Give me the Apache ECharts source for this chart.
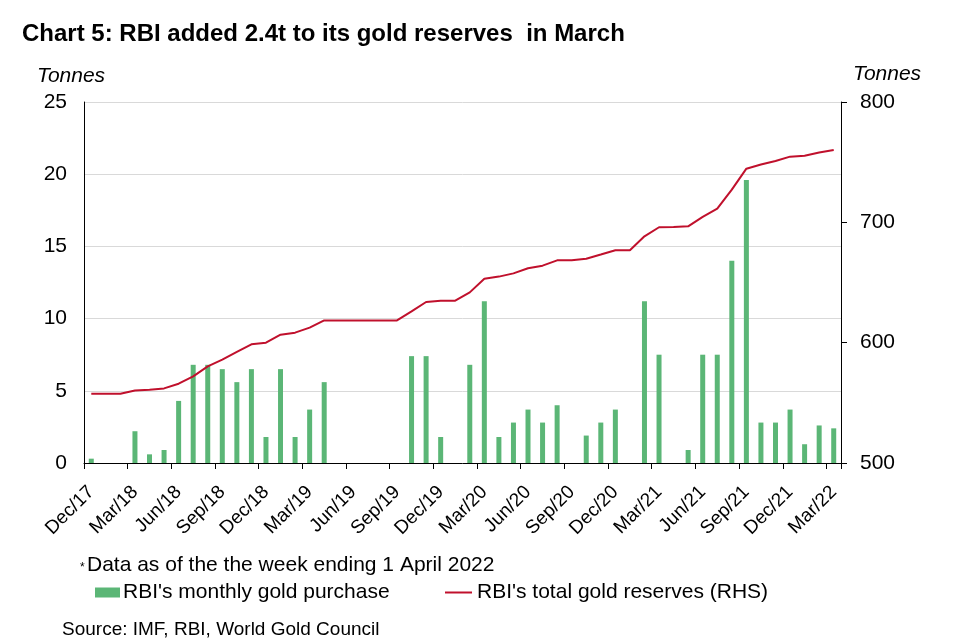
<!DOCTYPE html>
<html>
<head>
<meta charset="utf-8">
<script src="https://cdn.jsdelivr.net/npm/echarts@6/dist/echarts.min.js"></script>
<style>
html,body{margin:0;padding:0;background:#fff;}
#c{width:977px;height:638px;}
</style>
</head>
<body>
<div id="c"></div>
<script>
const categories = [
  'Dec/17','Jan/18','Feb/18','Mar/18','Apr/18','May/18','Jun/18','Jul/18','Aug/18','Sep/18','Oct/18','Nov/18',
  'Dec/18','Jan/19','Feb/19','Mar/19','Apr/19','May/19','Jun/19','Jul/19','Aug/19','Sep/19','Oct/19','Nov/19',
  'Dec/19','Jan/20','Feb/20','Mar/20','Apr/20','May/20','Jun/20','Jul/20','Aug/20','Sep/20','Oct/20','Nov/20',
  'Dec/20','Jan/21','Feb/21','Mar/21','Apr/21','May/21','Jun/21','Jul/21','Aug/21','Sep/21','Oct/21','Nov/21',
  'Dec/21','Jan/22','Feb/22','Mar/22'
];
const monthlyPurchase = [
  0.3, 0, 0, 2.2, 0.6, 0.9, 4.3, 6.8, 6.8, 6.5, 5.6, 6.5,
  1.8, 6.5, 1.8, 3.7, 5.6, 0, 0, 0, 0, 0, 7.4, 7.4,
  1.8, 0, 6.8, 11.2, 1.8, 2.8, 3.7, 2.8, 4.0, 0, 1.9, 2.8,
  3.7, 0, 11.2, 7.5, 0, 0.9, 7.5, 7.5, 14.0, 19.6, 2.8, 2.8,
  3.7, 1.3, 2.6, 2.4
];
const totalReserves = [
  557.6, 557.6, 557.6, 560.3, 560.9, 562.0, 565.9, 572.0, 580.3, 585.9, 592.3, 598.6,
  600.0, 606.6, 608.3, 612.5, 618.5, 618.5, 618.5, 618.5, 618.5, 618.5, 626.0, 633.8,
  634.9, 634.9, 641.8, 653.2, 654.9, 657.6, 661.8, 664.0, 668.4, 668.4, 669.8, 673.2,
  676.8, 676.8, 688.4, 695.9, 696.2, 696.7, 704.5, 711.4, 727.2, 744.6, 748.0, 751.0,
  754.6, 755.4, 758.0, 760.2
];
const leftTicks = { min: 0, max: 25, interval: 5 };
const rightTicks = { min: 500, max: 800, interval: 100 };
const seriesNames = ["RBI's monthly gold purchase", "RBI's total gold reserves (RHS)"];

const FONT = '"Liberation Sans", Arial, sans-serif';
const chart = echarts.init(document.getElementById('c'), null, { renderer: 'canvas' });
chart.setOption({
  backgroundColor: '#fff',
  animation: false,
  textStyle: { fontFamily: FONT },
  grid: { left: 84, right: 136, top: 102, bottom: 175, containLabel: false },
  graphic: [
    { type: 'text', left: 22, top: 22, style: { text: 'Chart 5: RBI added 2.4t to its gold reserves  in March', font: 'bold 24px ' + FONT, fill: '#000' } },
    { type: 'text', left: 37, top: 66, style: { text: 'Tonnes', font: 'italic 21px ' + FONT, fill: '#000' } },
    { type: 'text', left: 853, top: 64, style: { text: 'Tonnes', font: 'italic 21px ' + FONT, fill: '#000' } },
    { type: 'text', left: 80, top: 562, style: { text: '*', font: '12px ' + FONT, fill: '#000' } },
    { type: 'text', left: 87, top: 555, style: { text: 'Data as of the the week ending 1 April 2022', font: '21px ' + FONT, fill: '#000' } },
    { type: 'text', left: 62, top: 620, style: { text: 'Source: IMF, RBI, World Gold Council', font: '19px ' + FONT, fill: '#000' } }
  ],
  legend: [
    { data: [seriesNames[0]], left: 95, top: 582, padding: 0, itemWidth: 25, itemHeight: 10, icon: 'rect',
      textStyle: { fontSize: 21, color: '#000', fontFamily: FONT, padding: [0,0,0,-2] } },
    { data: [seriesNames[1]], left: 445, top: 582, padding: 0, itemWidth: 27, itemHeight: 2, icon: 'rect',
      textStyle: { fontSize: 21, color: '#000', fontFamily: FONT, padding: [0,0,0,0] } }
  ],
  xAxis: {
    type: 'category',
    data: categories,
    boundaryGap: true,
    axisLine: { lineStyle: { color: '#000', width: 1 } },
    axisTick: { show: true, interval: 2, length: 6, lineStyle: { color: '#000' } },
    axisLabel: { interval: 2, rotate: 45, margin: 26, fontSize: 19, color: '#000', fontFamily: FONT },
    splitLine: { show: false }
  },
  yAxis: [
    { type: 'value', min: leftTicks.min, max: leftTicks.max, interval: leftTicks.interval,
      axisLine: { show: true, lineStyle: { color: '#000' } },
      axisTick: { show: false },
      axisLabel: { margin: 17, fontSize: 21, color: '#000', fontFamily: FONT },
      splitLine: { show: true, lineStyle: { color: '#d9d9d9', width: 1 } } },
    { type: 'value', min: rightTicks.min, max: rightTicks.max, interval: rightTicks.interval, position: 'right',
      axisLine: { show: true, lineStyle: { color: '#000' } },
      axisTick: { show: true, inside: false, length: 6, lineStyle: { color: '#000' } },
      axisLabel: { margin: 19, fontSize: 21, color: '#000', fontFamily: FONT },
      splitLine: { show: false } }
  ],
  series: [
    { name: seriesNames[0], type: 'bar', yAxisIndex: 0, data: monthlyPurchase, barWidth: 5,
      itemStyle: { color: '#5BB676' } },
    { name: seriesNames[1], type: 'line', yAxisIndex: 1, data: totalReserves, symbol: 'none',
      lineStyle: { color: '#C0102C', width: 2 }, itemStyle: { color: '#C0102C' } }
  ]
});
</script>
</body>
</html>
